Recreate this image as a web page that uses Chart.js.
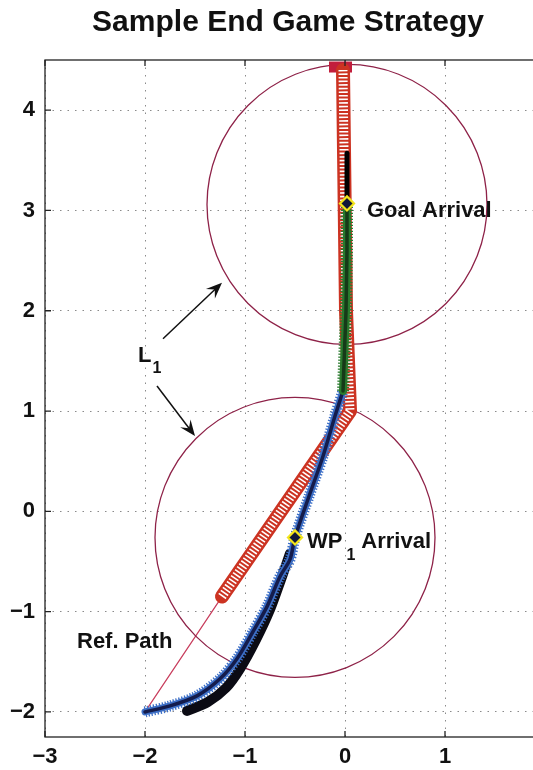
<!DOCTYPE html>
<html>
<head>
<meta charset="utf-8">
<script src="https://cdn.jsdelivr.net/npm/chart.js@4"></script>
<style>
  html, body { margin: 0; padding: 0; overflow: hidden; background: #fff; }
  #wrap { width: 576px; height: 770px; }
</style>
</head>
<body>
<div id="wrap"><canvas id="endGameChart"></canvas></div>
<script>
// axis ticks
const xTicks = [-3, -2, -1, 0, 1, 2];
const yTicks = [-2, -1, 0, 1, 2, 3, 4];

// reference path: thin lead-in, then the red ring markers up to the goal box
const refLeadX = [-2.0, -1.23];
const refLeadY = [-2.0, -0.85];
const refPathX = [-1.23, 0.05, 0.01, -0.02];
const refPathY = [-0.85, 1.00, 2.00, 4.40];
const goalBoxX = [-0.16, 0.07];
const goalBoxY = [4.43, 4.43];

// vehicle track (blue x markers) and its final leg (green)
const trackX = [-2.0, -1.75, -1.48, -1.25, -1.08, -0.92, -0.78, -0.65, -0.55, -0.50, -0.36, -0.22, -0.10, -0.02];
const trackY = [-2.0, -1.94, -1.84, -1.67, -1.47, -1.20, -0.95, -0.65, -0.48, -0.26, 0.15, 0.55, 0.95, 1.20];
const finalLegX = [-0.02, 0.01, 0.02, 0.02];
const finalLegY = [1.20, 2.00, 2.60, 3.07];
const shadowX = [-1.58, -1.37, -1.19, -1.05, -0.89, -0.75, -0.64, -0.55];
const shadowY = [-1.99, -1.90, -1.76, -1.57, -1.28, -0.98, -0.68, -0.42];
const overshootX = [0.02, 0.02];
const overshootY = [3.07, 3.57];

// L1 circles around the arrival points
const L1 = 1.4;
const circleX = [0.02, -0.50];
const circleY = [3.06, -0.26];

// arrival markers
const arrivalX = [0.02, -0.50];
const arrivalY = [3.07, -0.26];

// L1 arrows
const arrowFromX = [-1.82, -1.88];
const arrowFromY = [1.72, 1.25];
const arrowToX = [-1.23, -1.50];
const arrowToY = [2.28, 0.75];

const pts = (xs, ys) => xs.map((x, i) => ({ x: x, y: ys[i] }));
const FONT = "'Liberation Sans', Arial, Helvetica, sans-serif";
const minus = v => String(v).replace('-', '\u2212');

function lineSet(xs, ys, color, width, order, extra) {
  return Object.assign({
    data: pts(xs, ys),
    showLine: true,
    pointRadius: 0,
    borderColor: color,
    borderWidth: width,
    fill: false,
    tension: 0.3,
    borderCapStyle: 'round',
    borderJoinStyle: 'round',
    order: order
  }, extra || {});
}

const overlay = {
  id: 'overlay',
  afterDraw(chart) {
    const { ctx, chartArea: a, scales: { x, y } } = chart;
    ctx.save();
    ctx.strokeStyle = '#222';
    ctx.lineWidth = 1.3;
    ctx.strokeRect(a.left, a.top, a.right - a.left, a.bottom - a.top);

    // inward tick marks on all four sides
    ctx.beginPath();
    xTicks.forEach(v => {
      const px = x.getPixelForValue(v);
      ctx.moveTo(px, a.bottom); ctx.lineTo(px, a.bottom - 6);
      ctx.moveTo(px, a.top); ctx.lineTo(px, a.top + 6);
    });
    yTicks.forEach(v => {
      const py = y.getPixelForValue(v);
      ctx.moveTo(a.left, py); ctx.lineTo(a.left + 6, py);
      ctx.moveTo(a.right, py); ctx.lineTo(a.right - 6, py);
    });
    ctx.stroke();

    // arrows pointing at the L1 circles
    ctx.fillStyle = '#111';
    ctx.strokeStyle = '#111';
    ctx.lineWidth = 1.5;
    arrowFromX.forEach((fx, i) => {
      const x0 = x.getPixelForValue(fx), y0 = y.getPixelForValue(arrowFromY[i]);
      const x1 = x.getPixelForValue(arrowToX[i]), y1 = y.getPixelForValue(arrowToY[i]);
      const ang = Math.atan2(y1 - y0, x1 - x0);
      ctx.beginPath();
      ctx.moveTo(x0, y0);
      ctx.lineTo(x1 - 8 * Math.cos(ang), y1 - 8 * Math.sin(ang));
      ctx.stroke();
      ctx.save();
      ctx.translate(x1, y1);
      ctx.rotate(ang);
      ctx.beginPath();
      ctx.moveTo(0, 0);
      ctx.lineTo(-16, -6.5);
      ctx.lineTo(-10, 0);
      ctx.lineTo(-16, 6.5);
      ctx.closePath();
      ctx.fill();
      ctx.restore();
    });

    // text labels
    ctx.fillStyle = '#111';
    ctx.textBaseline = 'middle';
    ctx.textAlign = 'left';
    const big = 'bold 22px ' + FONT;
    const sub = 'bold 16px ' + FONT;

    ctx.font = big;
    ctx.fillText('Goal Arrival', x.getPixelForValue(0.22), y.getPixelForValue(3.0));
    ctx.fillText('Ref. Path', x.getPixelForValue(-2.68), y.getPixelForValue(-1.30));

    let lx = x.getPixelForValue(-2.07), ly = y.getPixelForValue(1.55);
    ctx.fillText('L', lx, ly);
    lx += ctx.measureText('L').width + 1;
    ctx.font = sub;
    ctx.fillText('1', lx, ly + 13);

    ctx.font = big;
    let wx = x.getPixelForValue(-0.38), wy = y.getPixelForValue(-0.31);
    ctx.fillText('WP', wx, wy);
    wx += ctx.measureText('WP').width + 4;
    ctx.font = sub;
    ctx.fillText('1', wx, wy + 13);
    wx += ctx.measureText('1').width + 6;
    ctx.font = big;
    ctx.fillText('Arrival', wx, wy);
    ctx.restore();
  }
};

const circleRadius = c => {
  const s = c.chart.scales.x;
  return Math.abs(s.getPixelForValue(L1) - s.getPixelForValue(0));
};

new Chart(document.getElementById('endGameChart'), {
  type: 'scatter',
  data: {
    datasets: [
      { data: pts(arrivalX, arrivalY), pointStyle: 'rectRot', pointRadius: 7,
        pointBackgroundColor: '#10183a', pointBorderColor: '#f3e51a', pointBorderWidth: 2.2, order: 0 },
      lineSet(overshootX, overshootY, '#000', 5, 1, { tension: 0 }),
      lineSet(finalLegX, finalLegY, '#163a18', 3.5, 2, { tension: 0 }),
      lineSet(finalLegX, finalLegY, '#2a7a2e', 12, 3, { tension: 0, borderDash: [1.3, 1.7], borderCapStyle: 'butt' }),
      lineSet(finalLegX, finalLegY, '#2a7a2e', 8, 3, { tension: 0 }),
      lineSet(trackX, trackY, '#141c4c', 3.5, 4),
      lineSet(trackX, trackY, '#3d6fc6', 11, 5, { borderDash: [1.3, 1.7], borderCapStyle: 'butt' }),
      lineSet(trackX, trackY, '#3d6fc6', 7, 5),
      lineSet(shadowX, shadowY, '#0b0b14', 10, 6),
      lineSet(refPathX, refPathY, '#ffffff', 9, 7, { tension: 0, borderDash: [1.6, 2.0], borderCapStyle: 'butt' }),
      lineSet(refPathX, refPathY, '#cc3322', 14, 8, { tension: 0 }),
      lineSet(goalBoxX, goalBoxY, '#c21e3c', 11, 8, { tension: 0, borderCapStyle: 'butt' }),
      { data: pts(circleX, circleY), pointStyle: 'circle', pointRadius: circleRadius, pointHoverRadius: circleRadius,
        pointBackgroundColor: 'rgba(0,0,0,0)', pointBorderColor: '#8e2248', pointBorderWidth: 1.3, order: 9 },
      lineSet(refLeadX, refLeadY, '#c83c5c', 1.2, 10, { tension: 0 })
    ]
  },
  options: {
    responsive: true,
    maintainAspectRatio: false,
    animation: false,
    events: [],
    layout: { padding: 0 },
    scales: {
      x: {
        type: 'linear', position: 'bottom', min: -3, max: 2,
        afterFit: s => { s.height = 33; },
        ticks: { stepSize: 1, padding: 7, color: '#111', font: { family: FONT, size: 22, weight: 'bold' }, callback: minus },
        grid: { color: '#8a8a8a', lineWidth: 1, drawTicks: false },
        border: { display: false, dash: [1.5, 6] }
      },
      y: {
        type: 'linear', position: 'left', min: -2.25, max: 4.5,
        afterFit: s => { s.width = 45; },
        ticks: { stepSize: 1, includeBounds: false, padding: 10, color: '#111', font: { family: FONT, size: 22, weight: 'bold' }, callback: minus },
        grid: { color: '#8a8a8a', lineWidth: 1, drawTicks: false },
        border: { display: false, dash: [1.5, 6] }
      },
      yRight: {
        type: 'linear', position: 'right', min: -2.25, max: 4.5,
        afterFit: s => { s.width = 31; },
        ticks: { display: false },
        grid: { display: false },
        border: { display: false }
      }
    },
    plugins: {
      legend: { display: false },
      tooltip: { enabled: false },
      title: {
        display: true,
        text: 'Sample End Game Strategy',
        color: '#111',
        font: { family: FONT, size: 30, weight: 'bold', lineHeight: 1.2 },
        padding: { top: 5, bottom: 19 }
      }
    }
  },
  plugins: [overlay]
});
</script>
</body>
</html>
